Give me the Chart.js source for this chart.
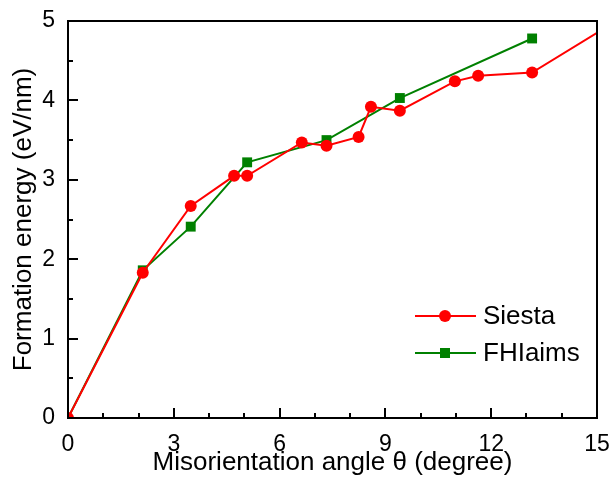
<!DOCTYPE html>
<html>
<head>
<meta charset="utf-8">
<script src="https://cdn.jsdelivr.net/npm/chart.js@4"></script>
<style>
  html, body { margin: 0; padding: 0; background: #fff; }
  #wrap { width: 609px; height: 479px; }
</style>
</head>
<body>
<div id="wrap"><canvas id="myChart" width="609" height="479"></canvas></div>
<script>
// values
var siestaAngle = [0, 2.12, 3.48, 4.71, 5.08, 6.63, 7.33, 8.24, 8.59, 9.41, 10.97, 11.63, 13.16, 15];
var siestaEnergy = [0, 1.83, 2.67, 3.05, 3.05, 3.47, 3.43, 3.54, 3.92, 3.87, 4.24, 4.31, 4.35, 4.85];
var fhiAngle = [0, 2.12, 3.48, 5.08, 7.33, 9.41, 13.16];
var fhiEnergy = [0, 1.86, 2.41, 3.22, 3.50, 4.03, 4.78];
var xTicks = [0, 3, 6, 9, 12, 15];
var yTicks = [0, 1, 2, 3, 4, 5];
var seriesNames = ["Siesta", "FHIaims"];

var FONT = "'Liberation Sans', Arial, sans-serif";

function pairs(xs, ys) {
  return xs.map(function (x, i) { return { x: x, y: ys[i] }; });
}

// last red point only carries the line to the edge, no marker
var siestaRadius = siestaAngle.map(function (v, i) { return i == siestaAngle.length - 1 ? 0 : 6; });
var fhiRadius = fhiAngle.map(function (v, i) { return i == 0 ? 0 : 7; });

// frame, inward ticks and the legend inside the plot
var framePlugin = {
  id: 'frame',
  afterDraw: function (chart) {
    var ctx = chart.ctx;
    var a = chart.chartArea;
    var xs = chart.scales.x;
    var ys = chart.scales.y;
    ctx.save();
    ctx.strokeStyle = '#000';
    ctx.lineWidth = 2;
    ctx.strokeRect(a.left, a.top, a.right - a.left, a.bottom - a.top);
    ctx.beginPath();
    for (var i = 0; i <= 15; i++) {
      var px = Math.round(xs.getPixelForValue(i));
      var len = i % 3 == 0 ? 10 : 5;
      ctx.moveTo(px, a.bottom);
      ctx.lineTo(px, a.bottom - len);
    }
    for (var j = 0; j <= 10; j++) {
      var py = Math.round(ys.getPixelForValue(j / 2));
      var l = j % 2 == 0 ? 10 : 5;
      ctx.moveTo(a.left, py);
      ctx.lineTo(a.left + l, py);
    }
    ctx.stroke();

    // legend
    var rows = [
      { name: seriesNames[0], color: '#ff0000', style: 'circle', y: 316 },
      { name: seriesNames[1], color: '#008000', style: 'rect', y: 353 }
    ];
    rows.forEach(function (r) {
      ctx.strokeStyle = r.color;
      ctx.fillStyle = r.color;
      ctx.lineWidth = 2;
      ctx.beginPath();
      ctx.moveTo(415, r.y);
      ctx.lineTo(476, r.y);
      ctx.stroke();
      if (r.style == 'circle') {
        ctx.beginPath();
        ctx.arc(445, r.y, 6, 0, Math.PI * 2);
        ctx.fill();
      } else {
        ctx.fillRect(440, r.y - 5, 10, 10);
      }
      ctx.fillStyle = '#000';
      ctx.font = '26px ' + FONT;
      ctx.textBaseline = 'middle';
      ctx.textAlign = 'left';
      ctx.fillText(r.name, 483, r.y + 1);
    });
    ctx.restore();
  }
};

var ctx = document.getElementById("myChart").getContext('2d');
var myChart = new Chart(ctx, {
  type: 'line',
  data: {
    datasets: [{
      label: seriesNames[0],
      data: pairs(siestaAngle, siestaEnergy),
      borderColor: '#ff0000',
      backgroundColor: '#ff0000',
      borderWidth: 2,
      pointStyle: 'circle',
      pointRadius: siestaRadius,
      pointBorderWidth: 0,
      tension: 0
    }, {
      label: seriesNames[1],
      data: pairs(fhiAngle, fhiEnergy),
      borderColor: '#008000',
      backgroundColor: '#008000',
      borderWidth: 2,
      pointStyle: 'rect',
      pointRadius: fhiRadius,
      pointBorderWidth: 0,
      tension: 0
    }]
  },
  options: {
    responsive: false,
    animation: false,
    events: [],
    layout: { padding: { top: 21, right: 12, left: 0, bottom: 0 } },
    plugins: {
      legend: { display: false },
      tooltip: { enabled: false }
    },
    scales: {
      x: {
        type: 'linear',
        min: 0,
        max: 15,
        afterFit: function (s) { s.height = 61; s.paddingLeft = 0; s.paddingRight = 0; },
        afterBuildTicks: function (s) { s.ticks = xTicks.map(function (v) { return { value: v }; }); },
        grid: { display: false, drawTicks: false },
        border: { display: false },
        ticks: { color: '#000', padding: 13, maxRotation: 0, font: { family: FONT, size: 23 } },
        title: {
          display: true,
          text: 'Misorientation angle θ (degree)',
          color: '#000',
          padding: { top: 0, bottom: 1 },
          font: { family: FONT, size: 26 }
        }
      },
      y: {
        type: 'linear',
        min: 0,
        max: 5,
        afterFit: function (s) { s.width = 68; s.paddingTop = 0; s.paddingBottom = 0; },
        afterBuildTicks: function (s) { s.ticks = yTicks.map(function (v) { return { value: v }; }); },
        grid: { display: false, drawTicks: false },
        border: { display: false },
        ticks: { color: '#000', padding: 13, font: { family: FONT, size: 23 } },
        title: {
          display: true,
          text: 'Formation energy (eV/nm)',
          color: '#000',
          padding: { top: 8, bottom: 0 },
          font: { family: FONT, size: 26 }
        }
      }
    }
  },
  plugins: [framePlugin]
});
</script>
</body>
</html>
